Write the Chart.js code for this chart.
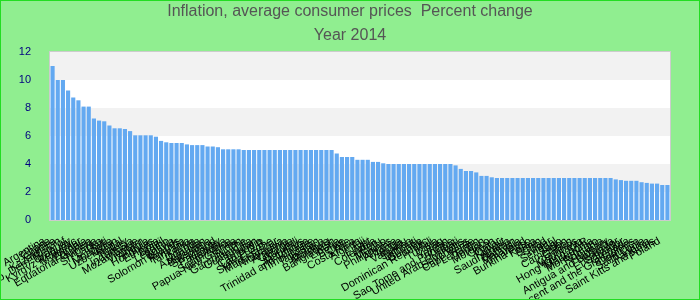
<!DOCTYPE html>
<html>
<head>
<meta charset="utf-8">
<script src="https://cdn.jsdelivr.net/npm/chart.js@4"></script>
<style>
  html, body { margin: 0; padding: 0; background: #90ee90; }
  #wrap { width: 700px; height: 300px; }
</style>
</head>
<body>
<div id="wrap"><canvas id="chart" width="700" height="300"></canvas></div>
<script>
// inflation 2014, sorted high to low
var countries = [
  "Argentina","Ghana","Guinea","Kazakhstan","Congo, Dem. Rep. of","Uruguay","Kyrgyz Republic","Myanmar","Zambia","Equatorial Guinea",
  "Nigeria","Sri Lanka","Haiti","Mongolia","Uzbekistan","Nepal","Turkey","Indonesia","Mozambique","Vietnam",
  "Angola","Honduras","Ethiopia","Brazil","Lesotho","Bolivia","Solomon Islands","Rwanda","Tanzania","Kenya",
  "Uganda","Azerbaijan","Botswana","Swaziland","Paraguay","Namibia","South Africa","Papua New Guinea","Sudan","Gambia, The",
  "Guatemala","Bhutan","Cambodia","Lao P.D.R.","Sierra Leone","Madagascar","Nicaragua","Armenia","Georgia","Burundi",
  "Mauritius","Trinidad and Tobago","Timor-Leste","Tajikistan","Jamaica","Moldova","Bangladesh","Liberia","Belize","Chile",
  "Costa Rica","Algeria","Fiji","Egypt","Colombia","Peru","Mexico","Philippines","Albania","Tonga",
  "Vanuatu","Samoa","Djibouti","Guyana","Dominican Republic","Mali","Tunisia","Iraq","Yemen","Sao Tome and Principe",
  "Kiribati","United Arab Emirates","Seychelles","Cape Verde","Lebanon","Jordan","Morocco","Oman","Qatar","Kuwait",
  "Saudi Arabia","Bahrain","Malaysia","Thailand","Burkina Faso","Korea","Benin","Chad","Niger","Senegal",
  "Togo","Cameroon","Gabon","Comoros","Mauritania","Hong Kong SAR","Macedonia","Montenegro","Romania","Hungary",
  "Antigua and Barbuda","Ecuador","El Salvador","Grenada","Saint Vincent and the Grenadines","Dominica","Saint Lucia","Panama","Saint Kitts and Nevis","Poland"
];
var inflation = [
  11.0,10.0,10.0,9.25,8.75,8.55,8.1,8.1,7.25,7.1,
  7.05,6.75,6.55,6.55,6.5,6.35,6.05,6.05,6.05,6.05,
  5.95,5.65,5.55,5.5,5.5,5.5,5.4,5.35,5.35,5.35,
  5.25,5.25,5.2,5.05,5.05,5.05,5.05,5.0,5.0,5.0,
  5.0,5.0,5.0,5.0,5.0,5.0,5.0,5.0,5.0,5.0,
  5.0,5.0,5.0,5.0,5.0,4.75,4.5,4.5,4.5,4.3,
  4.3,4.3,4.15,4.15,4.05,4.0,4.0,4.0,4.0,4.0,
  4.0,4.0,4.0,4.0,4.0,4.0,4.0,4.0,3.9,3.65,
  3.5,3.5,3.4,3.15,3.15,3.05,3.0,3.0,3.0,3.0,
  3.0,3.0,3.0,3.0,3.0,3.0,3.0,3.0,3.0,3.0,
  3.0,3.0,3.0,3.0,3.0,3.0,3.0,3.0,3.0,2.9,
  2.85,2.8,2.8,2.8,2.7,2.65,2.6,2.6,2.5,2.5
];
var yTicks = [0, 2, 4, 6, 8, 10, 12];
var titleLines = ["Inflation, average consumer prices  Percent change", "Year 2014"];

// green background, striped plot area, borders
var backdrop = {
  id: 'backdrop',
  beforeDraw: function(chart){
    var ctx = chart.ctx, a = chart.chartArea, y = chart.scales.y;
    ctx.save();
    ctx.fillStyle = '#90ee90';
    ctx.fillRect(0, 0, chart.width, chart.height);
    ctx.fillStyle = '#ffffff';
    ctx.fillRect(a.left, a.top, a.right - a.left, a.bottom - a.top);
    ctx.fillStyle = '#f2f2f2';
    for (var i = yTicks.length - 1; i > 0; i -= 2) {
      var t = y.getPixelForValue(yTicks[i]);
      var b = y.getPixelForValue(yTicks[i - 1]);
      ctx.fillRect(a.left, t, a.right - a.left, b - t);
    }
    ctx.strokeStyle = '#cccccc';
    ctx.lineWidth = 1;
    ctx.strokeRect(a.left - 0.5, a.top - 0.5, a.right - a.left + 1, a.bottom - a.top + 1);
    ctx.restore();
  },
  afterDraw: function(chart){
    var ctx = chart.ctx;
    ctx.save();
    ctx.strokeStyle = '#22dd22';
    ctx.lineWidth = 2;
    ctx.strokeRect(0, 0, chart.width, chart.height);
    ctx.restore();
  }
};

var chart = new Chart(document.getElementById('chart'), {
  type: 'bar',
  data: {
    labels: countries,
    datasets: [{
      label: 'Inflation',
      data: inflation,
      backgroundColor: '#63a9f1',
      borderWidth: 0,
      barPercentage: 0.8,
      categoryPercentage: 1.0
    }]
  },
  options: {
    responsive: false,
    animation: false,
    layout: { padding: 0 },
    plugins: {
      legend: { display: false },
      tooltip: { enabled: false },
      title: {
        display: true,
        text: titleLines,
        color: '#555555',
        font: { family: 'Liberation Sans, Arial, sans-serif', size: 16, weight: 'normal', lineHeight: 1.5 },
        padding: { top: 0, bottom: 4 }
      }
    },
    scales: {
      x: {
        grid: { display: false },
        border: { display: false },
        ticks: {
          autoSkip: false,
          minRotation: 30,
          maxRotation: 30,
          padding: 2,
          color: '#000000',
          font: { family: 'Liberation Sans, Arial, sans-serif', size: 11 },
          // trailing gap so the text ends a little before the bar
          callback: function(value){ return this.getLabelForValue(value) + '   '; }
        },
        afterFit: function(scale){
          scale.height = 80;
          scale.paddingLeft = 0;
          scale.paddingRight = 30;
        }
      },
      y: {
        min: 0,
        max: 12,
        grid: { display: false },
        border: { display: false },
        afterBuildTicks: function(scale){
          scale.ticks = yTicks.map(function(v){ return { value: v }; });
        },
        ticks: {
          padding: 11,
          color: '#000080',
          font: { family: 'Liberation Sans, Arial, sans-serif', size: 11 }
        },
        afterFit: function(scale){
          scale.width = 50;
        }
      }
    }
  },
  plugins: [backdrop]
});
</script>
</body>
</html>
